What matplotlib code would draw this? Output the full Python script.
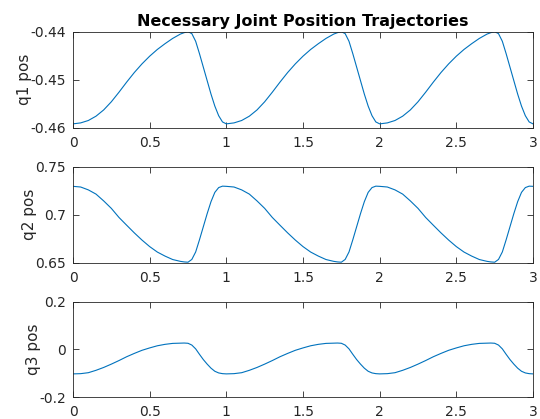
import numpy as np
import matplotlib
matplotlib.use("Agg")
import matplotlib.pyplot as plt

plt.rcParams['font.family'] = ['DejaVu Sans']
plt.rcParams['axes.unicode_minus'] = False

t_period = [0.0, 0.05, 0.1, 0.15, 0.2, 0.25, 0.3, 0.35, 0.4, 0.45, 0.5,
            0.55, 0.6, 0.65, 0.7, 0.725, 0.75, 0.775, 0.8, 0.825, 0.85,
            0.875, 0.9, 0.925, 0.95, 0.975, 1.0]

q1_period = [-0.4592, -0.4590, -0.4585, -0.4576, -0.4563, -0.4546, -0.4526,
             -0.4505, -0.4485, -0.4467, -0.4451, -0.4437, -0.4425, -0.4414,
             -0.4405, -0.4402, -0.4400, -0.4404, -0.4420, -0.4446, -0.4474,
             -0.4502, -0.4530, -0.4555, -0.4575, -0.4588, -0.4592]

q2_period = [0.7295, 0.7288, 0.7258, 0.7214, 0.7143, 0.7065, 0.6970,
             0.6889, 0.6809, 0.6734, 0.6666, 0.6609, 0.6567, 0.6531,
             0.6512, 0.6506, 0.6503, 0.6532, 0.6610, 0.6738, 0.6874,
             0.7010, 0.7135, 0.7232, 0.7282, 0.7297, 0.7295]

q3_period = [-0.103, -0.102, -0.098, -0.088, -0.076, -0.062, -0.047,
             -0.031, -0.017, -0.004, 0.006, 0.015, 0.021, 0.025,
             0.026, 0.0265, 0.0255, 0.018, 0.002, -0.021, -0.043,
             -0.062, -0.079, -0.092, -0.099, -0.102, -0.103]

n_periods = 3
xticks = [0, 0.5, 1, 1.5, 2, 2.5, 3]
xticklabels = ['0', '0.5', '1', '1.5', '2', '2.5', '3']
ylabels = ['q1 pos', 'q2 pos', 'q3 pos']
yticks = [[-0.46, -0.45, -0.44], [0.65, 0.7, 0.75], [-0.2, 0, 0.2]]
yticklabels = [['-0.46', '-0.45', '-0.44'], ['0.65', '0.7', '0.75'], ['-0.2', '0', '0.2']]
title = 'Necessary Joint Position Trajectories'


def full_series(tp, vp):
    t_all, v_all = [], []
    for k in range(n_periods):
        start = 0 if k == 0 else 1
        t_all += [t + k for t in tp[start:]]
        v_all += vp[start:]
    return np.array(t_all), np.array(v_all)


W, H = 540, 419
fig = plt.figure(figsize=(W / 100, H / 100), dpi=100)
left, right = 73 / W, 533 / W
boxes = [(31.7, 127.7), (166.7, 262.5), (301.7, 397.0)]
series = [q1_period, q2_period, q3_period]
line_color = '#0072BD'
ax_color = '#262626'

for i, (top, bot) in enumerate(boxes):
    ax = fig.add_axes([left, 1 - bot / H, right - left, (bot - top) / H])
    t, v = full_series(t_period, series[i])
    ax.plot(t, v, color=line_color, lw=0.8)
    ax.set_xlim(0, 3)
    ax.set_ylim(yticks[i][0], yticks[i][-1])
    ax.set_xticks(xticks)
    ax.set_xticklabels(xticklabels)
    ax.set_yticks(yticks[i])
    ax.set_yticklabels(yticklabels[i])
    ax.tick_params(direction='in', top=True, right=True, length=4,
                   width=0.6, colors=ax_color, labelsize=10)
    ax.tick_params(axis='x', pad=6)
    ax.tick_params(axis='y', pad=5)
    for sp in ax.spines.values():
        sp.set_color(ax_color)
        sp.set_linewidth(0.6)
    ax.set_ylabel(ylabels[i], fontsize=11, color=ax_color, labelpad=-1)
    if i == 0:
        ax.set_title(title, fontsize=11.5, fontweight='bold', color='black', pad=4)

fig.savefig('out.png', dpi=100)
